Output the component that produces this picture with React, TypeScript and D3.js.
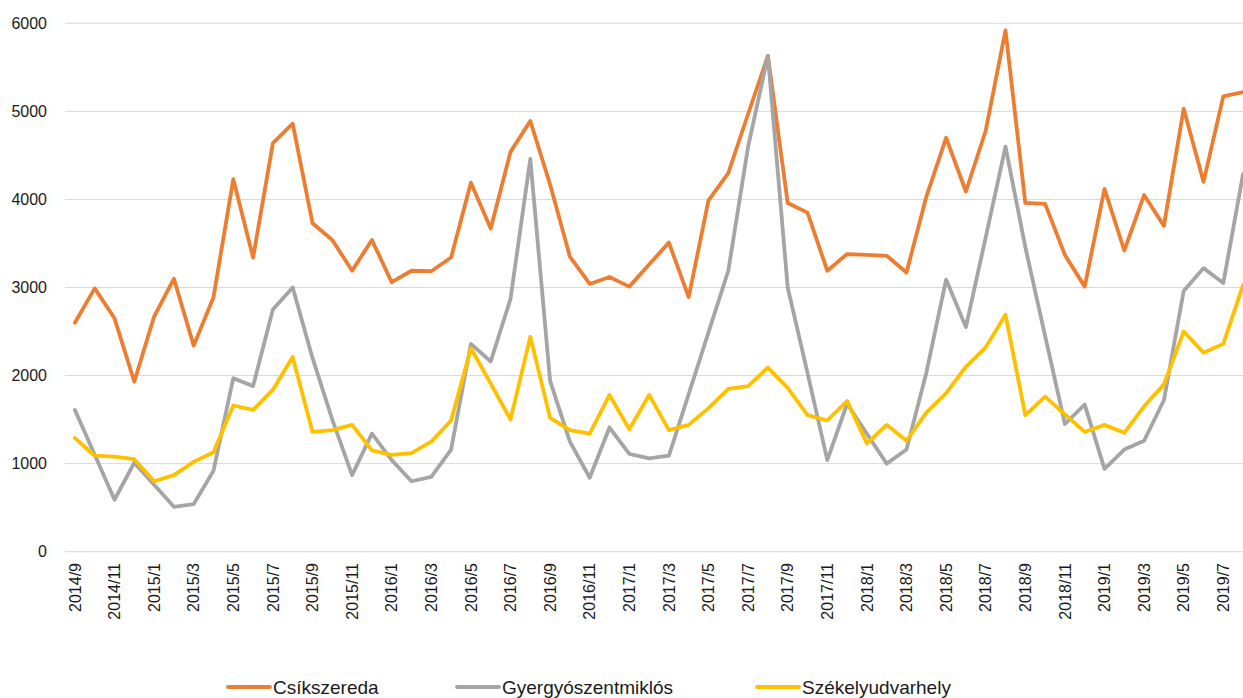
import { useEffect, useRef } from "react";
import * as d3 from "d3";

// monthly categories 2014/9 .. 2019/8
const months: string[] = [];
for (let i = 0; i < 60; i++) {
  const m = 8 + i;
  months.push(`${2014 + Math.floor(m / 12)}/${(m % 12) + 1}`);
}

const csikszereda = [
  2600, 2990, 2650, 1930, 2670, 3100, 2340, 2890, 4230, 3340, 4640, 4860,
  3730, 3540, 3190, 3540, 3060, 3190, 3185, 3340, 4190, 3670, 4540, 4890,
  4170, 3350, 3040, 3120, 3010, 3260, 3510, 2890, 3990, 4300, 4970, 5630,
  3960, 3850, 3190, 3380, 3370, 3360, 3170, 4030, 4700, 4090, 4780, 5920,
  3960, 3950, 3370, 3010, 4120, 3420, 4050, 3700, 5030, 4200, 5170, 5220,
];

const gyergyo = [
  1610, 1100, 590, 1010, 760, 510, 540, 920, 1970, 1880, 2750, 3000,
  2200, 1500, 870, 1340, 1040, 800, 850, 1160, 2360, 2160, 2870, 4460,
  1940, 1250, 840, 1410, 1110, 1060, 1090, 1790, 2490, 3190, 4600, 5630,
  3000, 2030, 1040, 1680, 1340, 1000, 1160, 2030, 3090, 2550, 3570, 4600,
  3460, 2450, 1450, 1670, 940, 1160, 1260, 1720, 2960, 3220, 3050, 4290,
];

const szekely = [
  1290, 1090, 1080, 1050, 800, 870, 1020, 1130, 1660, 1610, 1840, 2210,
  1360, 1380, 1440, 1150, 1100, 1120, 1250, 1490, 2310, 1910, 1500, 2440,
  1520, 1380, 1340, 1780, 1390, 1780, 1380, 1440, 1630, 1850, 1880, 2090,
  1860, 1550, 1490, 1710, 1230, 1440, 1260, 1580, 1800, 2100, 2320, 2690,
  1550, 1760, 1560, 1360, 1440, 1350, 1650, 1900, 2500, 2260, 2360, 3030,
];

const seriesNames = ["Csíkszereda", "Gyergyószentmiklós", "Székelyudvarhely"];
const seriesColors = ["#ED7D31", "#A5A5A5", "#FFC000"];
const yTicks = [0, 1000, 2000, 3000, 4000, 5000, 6000];

const W = 1243;
const H = 698;

const App = () => {
  const ref = useRef<SVGSVGElement>(null);

  useEffect(() => {
    const svg = d3.select(ref.current);
    svg.selectAll("*").remove();

    const x = d3
      .scaleBand()
      .domain(months)
      .range([65, 65 + 60 * 19.8])
      .padding(0);
    const cx = (d) => x(d) + x.bandwidth() / 2;

    const y = d3.scaleLinear().domain([0, 6000]).range([551.7, 23.3]);

    // grid
    svg
      .append("g")
      .selectAll("line")
      .data(yTicks)
      .join("line")
      .attr("x1", 65)
      .attr("x2", 65 + 60 * 19.8)
      .attr("y1", (d) => y(d))
      .attr("y2", (d) => y(d))
      .attr("stroke", "#D9D9D9")
      .attr("stroke-width", 1);

    const font = "Arial, 'Liberation Sans', sans-serif";

    svg
      .append("g")
      .selectAll("text")
      .data(yTicks)
      .join("text")
      .attr("x", 47)
      .attr("y", (d) => y(d))
      .attr("dy", "0.35em")
      .attr("text-anchor", "end")
      .attr("font-family", font)
      .attr("font-size", 16)
      .attr("fill", "#1a1a1a")
      .text((d) => d);

    svg
      .append("g")
      .selectAll("text")
      .data(months.filter((_, i) => i % 2 === 0))
      .join("text")
      .attr("transform", (d) => `translate(${cx(d)}, 563) rotate(-90)`)
      .attr("dy", "0.35em")
      .attr("text-anchor", "end")
      .attr("font-family", font)
      .attr("font-size", 16)
      .attr("fill", "#1a1a1a")
      .text((d) => d);

    const line = d3
      .line<number>()
      .x((_, i) => cx(months[i]))
      .y((d) => y(d));

    [csikszereda, gyergyo, szekely].forEach((s, k) => {
      svg
        .append("path")
        .datum(s)
        .attr("fill", "none")
        .attr("stroke", seriesColors[k])
        .attr("stroke-width", 3.8)
        .attr("stroke-linejoin", "round")
        .attr("stroke-linecap", "round")
        .attr("d", line);
    });

    // legend
    const legendX = [228, 457, 757];
    const lg = svg.append("g");
    seriesNames.forEach((name, k) => {
      lg.append("line")
        .attr("x1", legendX[k])
        .attr("x2", legendX[k] + 42)
        .attr("y1", 687)
        .attr("y2", 687)
        .attr("stroke", seriesColors[k])
        .attr("stroke-width", 3.8)
        .attr("stroke-linecap", "round");
      lg.append("text")
        .attr("x", legendX[k] + 45)
        .attr("y", 687)
        .attr("dy", "0.35em")
        .attr("font-family", font)
        .attr("font-size", 19)
        .attr("fill", "#1a1a1a")
        .text(name);
    });
  }, []);

  return (
    <div style={{ position: "absolute", left: 0, top: 0, width: W, height: H, background: "#fff" }}>
      <svg ref={ref} width={W} height={H} style={{ display: "block" }} />
    </div>
  );
};

export default App;
